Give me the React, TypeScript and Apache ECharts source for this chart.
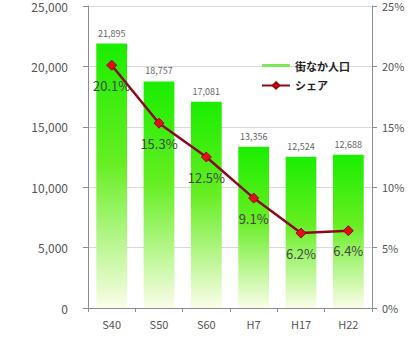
import React, { useEffect, useRef } from "react";
import * as echarts from "echarts";

const categories = ["S40", "S50", "S60", "H7", "H17", "H22"];
const population = [21895, 18757, 17081, 13356, 12524, 12688];
const share = [20.1, 15.3, 12.5, 9.1, 6.2, 6.4];
const seriesNames = ["街なか人口", "シェア"];

export default function App() {
  const ref = useRef<HTMLDivElement>(null);
  useEffect(() => {
    const chart = echarts.init(ref.current!, null, { renderer: "svg" });
    const font = "'Noto Sans CJK JP', 'Noto Sans', sans-serif";
    chart.setOption({
      animation: false,
      backgroundColor: "#ffffff",
      textStyle: { fontFamily: font },
      grid: { left: 88, right: 48, top: 2, bottom: 38 },
      legend: {
        orient: "vertical",
        left: 256,
        top: 55,
        itemGap: 9,
        itemWidth: 28,
        itemHeight: 8,
        textStyle: { fontSize: 11, fontWeight: "bold", color: "#222", fontFamily: font },
        data: [
          {
            name: seriesNames[0],
            icon: "path://M0,3 L28,3 L28,6 L0,6 Z",
            itemStyle: { color: "#7fe85a" },
          },
          { name: seriesNames[1] },
        ],
      },
      xAxis: {
        type: "category",
        data: categories,
        axisLine: { lineStyle: { color: "#8c8c8c" } },
        axisTick: { show: true, length: 4, lineStyle: { color: "#8c8c8c" } },
        axisLabel: { color: "#555", fontSize: 11, margin: 10 },
      },
      yAxis: [
        {
          type: "value",
          min: 0,
          max: 25000,
          interval: 5000,
          axisLine: { show: true, lineStyle: { color: "#8c8c8c" } },
          axisTick: { show: true, length: 5, lineStyle: { color: "#8c8c8c" } },
          axisLabel: {
            color: "#555",
            fontSize: 12,
            margin: 20,
            formatter: (v: number) => v.toLocaleString("en-US"),
          },
          splitLine: { lineStyle: { color: "#d9d9d9" } },
        },
        {
          type: "value",
          min: 0,
          max: 25,
          interval: 5,
          axisLine: { show: true, lineStyle: { color: "#8c8c8c" } },
          axisTick: { show: true, length: 5, lineStyle: { color: "#8c8c8c" } },
          axisLabel: { color: "#555", fontSize: 11, margin: 10, formatter: "{value}%" },
          splitLine: { show: false },
        },
      ],
      series: [
        {
          name: seriesNames[0],
          type: "bar",
          data: population,
          barWidth: "65%",
          itemStyle: {
            color: new echarts.graphic.LinearGradient(0, 0, 0, 1, [
              { offset: 0, color: "#1aee00" },
              { offset: 0.45, color: "#66ee22" },
              { offset: 1, color: "#fbfde8" },
            ]),
          },
          label: {
            show: true,
            position: "top",
            distance: 6,
            color: "#666",
            fontSize: 9,
            formatter: (p: any) => p.value.toLocaleString("en-US"),
          },
        },
        {
          name: seriesNames[1],
          type: "line",
          yAxisIndex: 1,
          data: share,
          symbol: "diamond",
          symbolSize: 10,
          lineStyle: { color: "#8b0a1a", width: 2.5 },
          itemStyle: { color: "#dd1111", borderColor: "#a00000", borderWidth: 1 },
          label: {
            show: true,
            position: "bottom",
            distance: 8,
            color: "#444",
            fontSize: 13,
            formatter: (p: any) => p.value.toFixed(1) + "%",
          },
        },
      ],
    });
    return () => chart.dispose();
  }, []);
  return <div ref={ref} style={{ width: 420, height: 346, position: "absolute", left: 0, top: 0 }} />;
}
